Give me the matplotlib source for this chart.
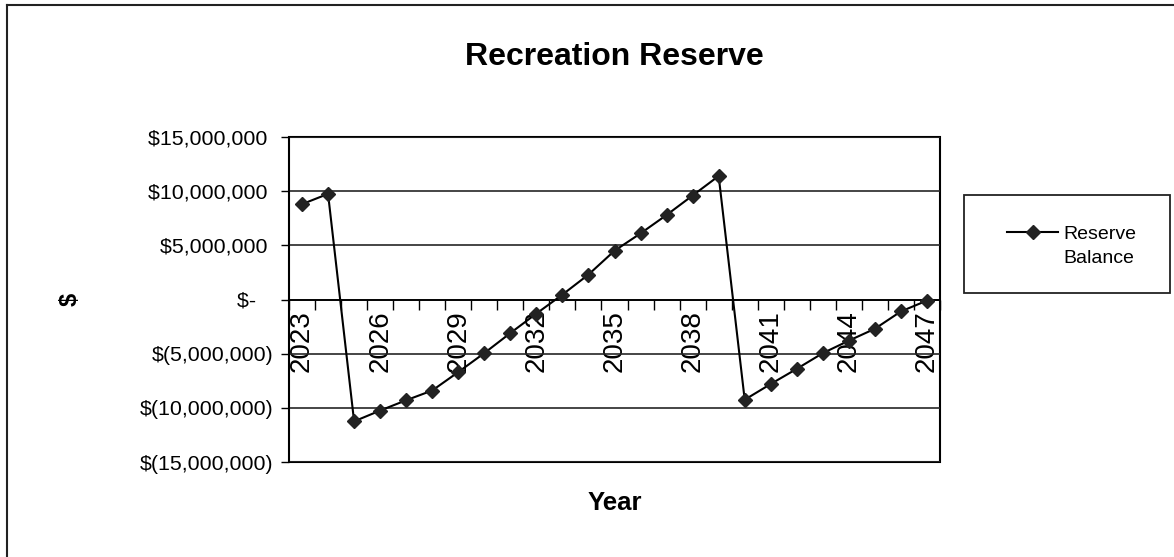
import matplotlib
matplotlib.use("Agg")
import matplotlib.pyplot as plt
from matplotlib.lines import Line2D
from matplotlib.ticker import FuncFormatter, MultipleLocator, FixedLocator

plt.rcParams['font.family'] = ['Liberation Sans', 'DejaVu Sans']

# data
years = list(range(2023, 2048))
balance = [8.8e6, 9.75e6, -11.25e6, -10.25e6, -9.3e6, -8.4e6, -6.7e6, -4.95e6,
           -3.1e6, -1.3e6, 0.45e6, 2.3e6, 4.5e6, 6.1e6, 7.8e6, 9.6e6, 11.4e6,
           -9.25e6, -7.8e6, -6.4e6, -4.95e6, -3.8e6, -2.7e6, -1.1e6, -0.1e6]
y_ticks = [-15e6, -10e6, -5e6, 0, 5e6, 10e6, 15e6]
label_every = 3


def money(v, pos=None):
    if v == 0:
        return "$-   "
    if v < 0:
        return "$({:,.0f})".format(-v)
    return "${:,.0f} ".format(v)


fig = plt.figure(figsize=(11.74, 5.57), dpi=100)
ax = fig.add_axes([289/1174, 95/557, 651/1174, 325/557])

x = list(range(len(years)))
ax.plot(x, balance, color='black', linewidth=1.5, marker='D', markersize=7.6,
        markerfacecolor='#222222', markeredgecolor='#222222', label='Reserve', zorder=3)

ax.set_xlim(-0.5, len(years) - 0.5)
ax.set_ylim(y_ticks[0], y_ticks[-1])

# gridlines
ax.yaxis.set_major_locator(FixedLocator(y_ticks))
ax.yaxis.set_major_formatter(FuncFormatter(money))
ax.grid(axis='y', color='#262626', linewidth=1.2)
ax.tick_params(axis='y', direction='out', length=6, width=1, pad=5, labelsize=15.4)

# x axis sits on the zero line
ax.spines['bottom'].set_position(('data', 0))
ax.patch.set_edgecolor('black')
ax.patch.set_linewidth(1.5)
for s in ['left', 'top', 'right', 'bottom']:
    ax.spines[s].set_linewidth(1.3)
ax.spines['top'].set_visible(False)
ax.spines['right'].set_visible(False)

major_pos = x[::label_every]
ax.xaxis.set_major_locator(FixedLocator(major_pos))
ax.set_xticklabels([str(years[i]) for i in major_pos], rotation=90, fontsize=20)
ax.xaxis.set_minor_locator(MultipleLocator(1, offset=0.5))
ax.tick_params(axis='x', which='major', length=0, pad=7.5)
ax.tick_params(axis='x', which='minor', direction='out', length=7, width=1)
for lbl in ax.get_xticklabels():
    lbl.set_verticalalignment('top')

ax.set_title('Recreation Reserve', fontsize=23, fontweight='bold', pad=52, x=0.5)
ax.set_xlabel('Year', fontsize=18.5, fontweight='bold', va='center')
ax.xaxis.set_label_coords(0.5, -0.126)
ax.set_ylabel('$', fontsize=17, fontweight='bold', va='center')
ax.yaxis.set_label_coords(-0.336, 0.5)

# legend with its own frame
box = plt.Rectangle((964/1174, 264/557), 206/1174, 98/557, transform=fig.transFigure,
                    fill=False, edgecolor='#222222', linewidth=1.3)
fig.patches.append(box)
h = ax.get_lines()[0]
blank = Line2D([], [], color='none')
fig.legend([h, blank], ['Reserve', 'Balance'], loc='center',
           bbox_to_anchor=(1072/1174, 311/557), frameon=False, fontsize=14,
           handlelength=2.6, handletextpad=0.3, labelspacing=0.3)

# outer chart border (left and top)
fig.add_artist(Line2D([7/1174, 7/1174], [0, 552/557], transform=fig.transFigure,
                      color='#222222', linewidth=1.5))
fig.add_artist(Line2D([7/1174, 1], [552/557, 552/557], transform=fig.transFigure,
                      color='#222222', linewidth=1.5))

fig.savefig('out.png', dpi=100)
